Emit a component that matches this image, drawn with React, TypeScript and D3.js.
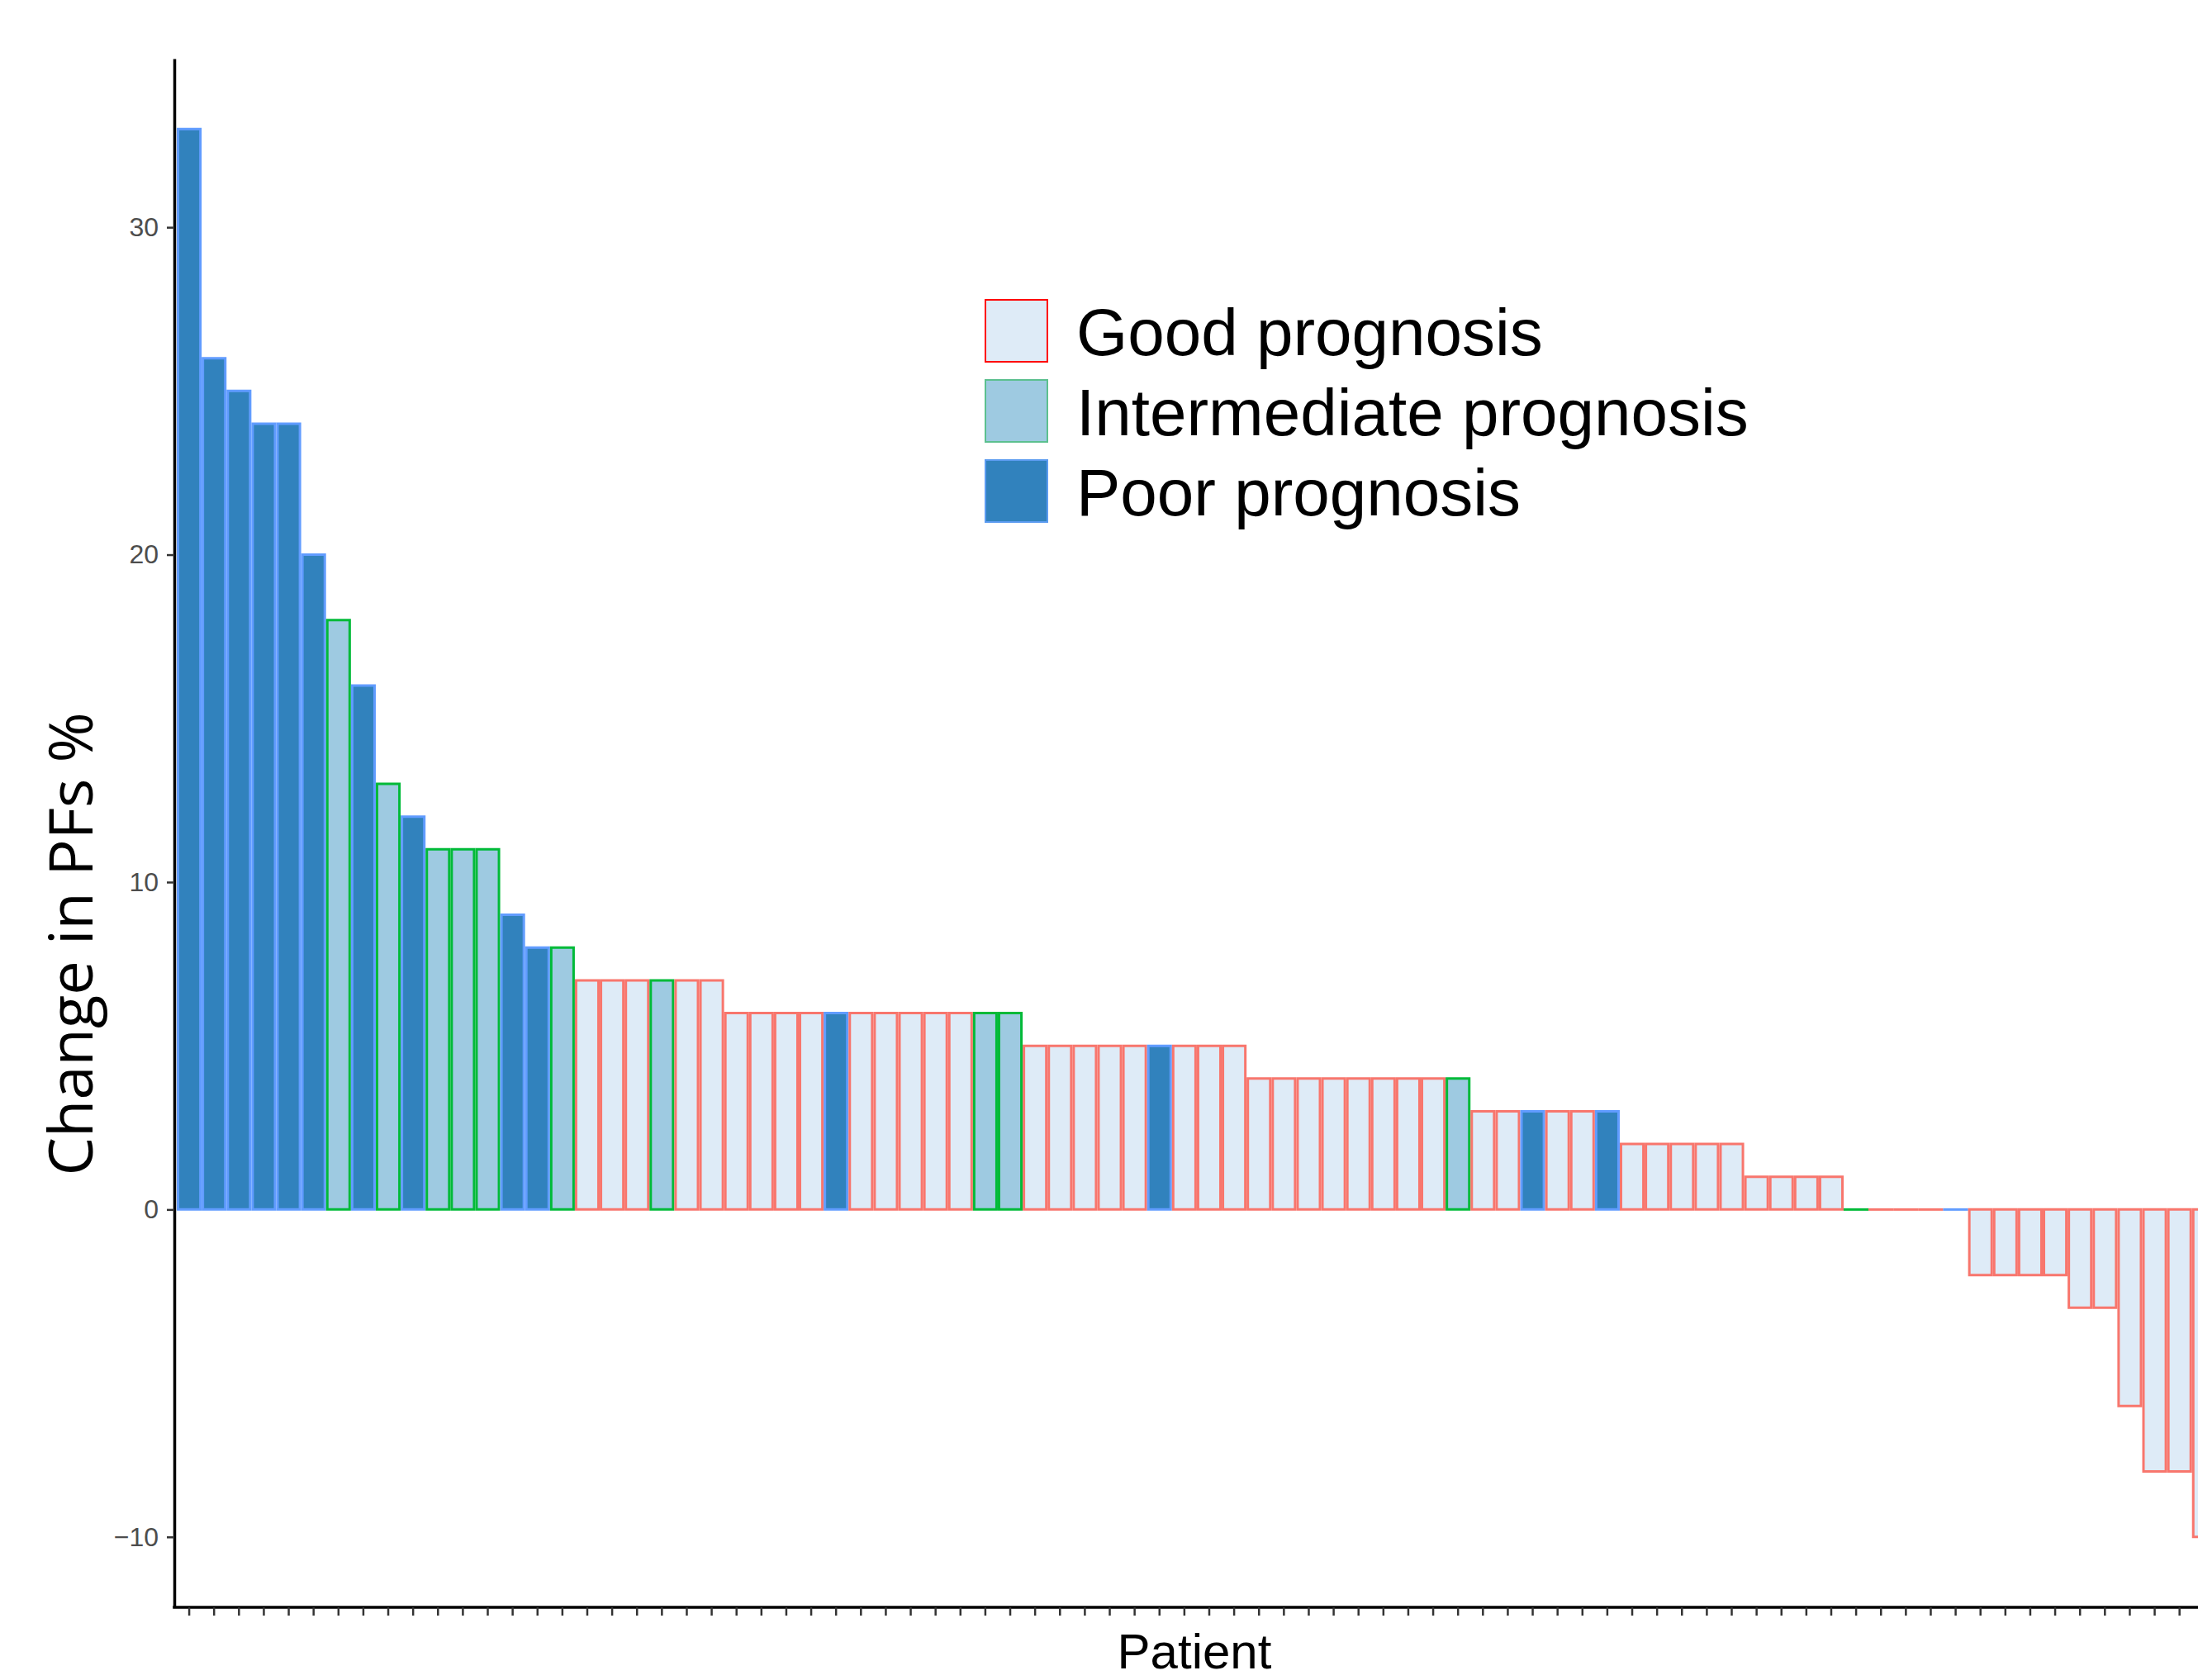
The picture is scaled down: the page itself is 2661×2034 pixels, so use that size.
import React, { useEffect, useRef } from 'react'
import * as d3 from 'd3'

// change in PFs (%) per patient, sorted as in the waterfall
const pfsChange = [
  33, 26, 25, 24, 24, 20, 18, 16, 13, 12, 11, 11, 11, 9, 8, 8,
  7, 7, 7, 7, 7, 7,
  6, 6, 6, 6, 6, 6, 6, 6, 6, 6, 6, 6,
  5, 5, 5, 5, 5, 5, 5, 5, 5,
  4, 4, 4, 4, 4, 4, 4, 4, 4,
  3, 3, 3, 3, 3, 3,
  2, 2, 2, 2, 2,
  1, 1, 1, 1,
  0, 0, 0, 0, 0,
  -2, -2, -2, -2, -3, -3, -6, -8, -8, -10,
]

const prognosis = [
  'poor', 'poor', 'poor', 'poor', 'poor', 'poor', 'intermediate', 'poor',
  'intermediate', 'poor', 'intermediate', 'intermediate', 'intermediate', 'poor', 'poor', 'intermediate',
  'good', 'good', 'good', 'intermediate', 'good', 'good',
  'good', 'good', 'good', 'good', 'poor', 'good', 'good', 'good', 'good', 'good', 'intermediate', 'intermediate',
  'good', 'good', 'good', 'good', 'good', 'poor', 'good', 'good', 'good',
  'good', 'good', 'good', 'good', 'good', 'good', 'good', 'good', 'intermediate',
  'good', 'good', 'poor', 'good', 'good', 'poor',
  'good', 'good', 'good', 'good', 'good',
  'good', 'good', 'good', 'good',
  'intermediate', 'good', 'good', 'good', 'poor',
  'good', 'good', 'good', 'good', 'good', 'good', 'good', 'good', 'good', 'good',
]

const yTicks = [-10, 0, 10, 20, 30]
const legendKeys = ['good', 'intermediate', 'poor']
const legendLabels = ['Good prognosis', 'Intermediate prognosis', 'Poor prognosis']

const fills = { good: '#deebf7', intermediate: '#9ecae1', poor: '#3182bd' }
const strokes = { good: '#f8766d', intermediate: '#00ba38', poor: '#619cff' }
const legendStrokes = { good: '#ff0000', intermediate: '#5cc08f', poor: '#5b9bf0' }

export default function App() {
  const ref = useRef(null)

  useEffect(() => {
    const svg = d3.select(ref.current)
    svg.selectAll('*').remove()

    const left = 211, top = 71, bottom = 1946
    const step = 30.12
    const n = pfsChange.length

    const x = d3.scaleBand()
      .domain(d3.range(n))
      .range([left, left + step * (n + 0.2)])
      .paddingInner(0.1)
      .paddingOuter(0.15)

    // ggplot style 5% expansion
    const [lo, hi] = d3.extent(pfsChange)
    const pad = (hi - lo) * 0.05
    const y = d3.scaleLinear().domain([lo - pad, hi + pad]).range([bottom, top])

    // bars (paths so zero bars still show their outline)
    svg.append('g')
      .selectAll('path')
      .data(pfsChange)
      .join('path')
      .attr('d', (d, i) => {
        const x0 = x(i), x1 = x(i) + x.bandwidth()
        const y0 = y(0), y1 = y(d)
        if (d === 0) return `M${x0 - 1.6},${y0}H${x1 + 1.6}`
        return `M${x0},${y0}H${x1}V${y1}H${x0}Z`
      })
      .attr('fill', (d, i) => fills[prognosis[i]])
      .attr('stroke', (d, i) => strokes[prognosis[i]])
      .attr('stroke-width', 3)

    // y axis
    const yAxis = svg.append('g')
      .attr('transform', `translate(${left},0)`)
      .call(d3.axisLeft(y).tickValues(yTicks).tickSize(9).tickSizeOuter(0).tickPadding(10))
    yAxis.select('.domain').attr('stroke', '#000').attr('stroke-width', 3.5)
    yAxis.selectAll('.tick line').attr('stroke', '#333').attr('stroke-width', 2.5)
    yAxis.selectAll('.tick text')
      .attr('fill', '#4d4d4d')
      .attr('font-size', 32)
      .attr('font-family', 'Liberation Sans, Arial, sans-serif')

    // x axis, one tick per patient, no labels
    const xAxis = svg.append('g')
      .attr('transform', `translate(0,${bottom})`)
      .call(d3.axisBottom(x).tickFormat(() => '').tickSize(10).tickSizeOuter(0))
    xAxis.select('.domain').attr('stroke', '#000').attr('stroke-width', 3.5)
      .attr('d', `M${left - 1.75},0H${left + step * (n + 0.2)}`)
    xAxis.selectAll('.tick line').attr('stroke', '#333').attr('stroke-width', 2.5)

    // axis titles
    svg.append('text')
      .attr('transform', 'translate(112,1143) rotate(-90)')
      .attr('text-anchor', 'middle')
      .attr('font-family', 'Open Sans, sans-serif')
      .attr('font-size', 74)
      .attr('fill', '#000')
      .text('Change in PFs %')

    svg.append('text')
      .attr('x', 1446)
      .attr('y', 2020)
      .attr('text-anchor', 'middle')
      .attr('font-family', 'Liberation Sans, Arial, sans-serif')
      .attr('font-size', 60)
      .attr('fill', '#000')
      .text('Patient')

    // legend
    const legend = svg.append('g').attr('transform', 'translate(1193,363)')
    legendKeys.forEach((k, i) => {
      legend.append('rect')
        .attr('x', 0)
        .attr('y', i * 97)
        .attr('width', 75)
        .attr('height', 75)
        .attr('fill', fills[k])
        .attr('stroke', legendStrokes[k])
        .attr('stroke-width', 2)
      legend.append('text')
        .attr('x', 110)
        .attr('y', i * 97 + 67)
        .attr('font-family', 'Liberation Sans, Arial, sans-serif')
        .attr('font-size', 80)
        .attr('fill', '#000')
        .text(legendLabels[i])
    })
  }, [])

  return (
    <svg
      ref={ref}
      width={2661}
      height={2034}
      style={{ position: 'absolute', left: 0, top: 0, background: '#fff' }}
    />
  )
}
